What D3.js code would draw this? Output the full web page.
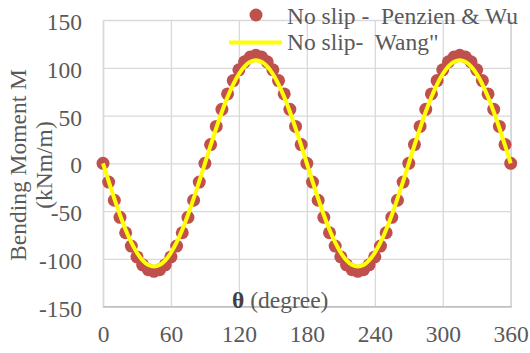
<!DOCTYPE html>
<html>
<head>
<meta charset="utf-8">
<script src="https://cdn.jsdelivr.net/npm/d3@7"></script>
<style>
  html, body { margin: 0; padding: 0; background: #fff; }
  svg { display: block; }
  svg text { font-family: 'Liberation Serif', 'Times New Roman', Times, 'DejaVu Serif', serif !important; fill: #595959; white-space: pre; }
</style>
</head>
<body>
<svg id="chart" width="530" height="353"></svg>
<script>
// ---- data ----
const theta = [0,5,10,15,20,25,30,35,40,45,50,55,60,65,70,75,80,85,90,95,100,105,110,115,120,125,130,135,140,145,150,155,160,165,170,175,180,185,190,195,200,205,210,215,220,225,230,235,240,245,250,255,260,265,270,275,280,285,290,295,300,305,310,315,320,325,330,335,340,345,350,355,360];
const penzienWu = [0,-19.6,-38.6,-56.5,-72.6,-86.6,-97.9,-106.2,-111.3,-113,-111.3,-106.2,-97.9,-86.6,-72.6,-56.5,-38.6,-19.6,
  0,19.6,38.6,56.5,72.6,86.6,97.9,106.2,111.3,113,111.3,106.2,97.9,86.6,72.6,56.5,38.6,19.6,
  0,-19.6,-38.6,-56.5,-72.6,-86.6,-97.9,-106.2,-111.3,-113,-111.3,-106.2,-97.9,-86.6,-72.6,-56.5,-38.6,-19.6,
  0,19.6,38.6,56.5,72.6,86.6,97.9,106.2,111.3,113,111.3,106.2,97.9,86.6,72.6,56.5,38.6,19.6,0];
const wang = [0,-18.8,-36.9,-54,-69.4,-82.7,-93.5,-101.5,-106.4,-108,-106.4,-101.5,-93.5,-82.7,-69.4,-54,-36.9,-18.8,
  0,18.8,36.9,54,69.4,82.7,93.5,101.5,106.4,108,106.4,101.5,93.5,82.7,69.4,54,36.9,18.8,
  0,-18.8,-36.9,-54,-69.4,-82.7,-93.5,-101.5,-106.4,-108,-106.4,-101.5,-93.5,-82.7,-69.4,-54,-36.9,-18.8,
  0,18.8,36.9,54,69.4,82.7,93.5,101.5,106.4,108,106.4,101.5,93.5,82.7,69.4,54,36.9,18.8,0];
const xTicks = [0,60,120,180,240,300,360];
const yTicks = [-150,-100,-50,0,50,100,150];
const seriesNames = ["No slip -  Penzien & Wu", "No slip-  Wang\""];
const yTitle = ["Bending Moment M", "(kNm/m)"];

const FONT = "'Liberation Serif', 'Times New Roman', Times, serif";
const FS = 23.5;

// ---- layout ----
const svg = d3.select("#chart");
const x = d3.scaleLinear().domain([0, 360]).range([103, 510.7]);
const y = d3.scaleLinear().domain([-150, 150]).range([306.7, 20]);

// gridlines
const gx = svg.append("g").attr("transform", `translate(0,${y(-150)})`)
  .call(d3.axisBottom(x).tickValues(xTicks).tickSize(-(y(-150) - y(150))).tickFormat(d => d));
gx.attr("font-family", FONT);
gx.select(".domain").attr("stroke", "#bfbfbf").attr("stroke-width", 1.3);
gx.selectAll(".tick line").attr("stroke", "#d9d9d9").attr("stroke-width", 1.3);
gx.selectAll(".tick text").attr("font-size", FS).attr("fill", "#595959")
  .attr("y", 342 - y(-150)).attr("dy", null);

const gy = svg.append("g").attr("transform", `translate(${x(0)},0)`)
  .call(d3.axisLeft(y).tickValues(yTicks).tickSize(-(x(360) - x(0))).tickFormat(d => d));
gy.attr("font-family", FONT);
gy.select(".domain").remove();
gy.selectAll(".tick line").attr("stroke", "#d9d9d9").attr("stroke-width", 1.3);
gy.selectAll(".tick text").attr("font-size", FS).attr("fill", "#595959")
  .attr("x", 82 - x(0)).attr("dy", 9.5);
svg.append("line").attr("x1", x(0)).attr("x2", x(360)).attr("y1", y(-150)).attr("y2", y(-150))
  .attr("stroke", "#bfbfbf").attr("stroke-width", 1.3);

// dots
svg.append("g").selectAll("circle").data(theta).join("circle")
  .attr("cx", (d) => x(d)).attr("cy", (d, i) => y(penzienWu[i])).attr("r", 6.5)
  .attr("fill", "#C0504D");

// line
const line = d3.line().x(d => x(d)).y((d, i) => y(wang[i])).curve(d3.curveCatmullRom);
svg.append("path").datum(theta).attr("d", line).attr("fill", "none")
  .attr("stroke", "#FFFF00").attr("stroke-width", 4);

// legend
svg.append("circle").attr("cx", 256).attr("cy", 15).attr("r", 6.5).attr("fill", "#C0504D");
svg.append("text").attr("font-family", FONT).attr("x", 287).attr("y", 23.5).attr("font-size", FS).text(seriesNames[0]);
svg.append("line").attr("x1", 229).attr("x2", 282).attr("y1", 42.5).attr("y2", 42.5)
  .attr("stroke", "#FFFF00").attr("stroke-width", 4);
svg.append("text").attr("font-family", FONT).attr("x", 287).attr("y", 50).attr("font-size", FS).text(seriesNames[1]);

// y title
const yt = svg.append("text").attr("font-family", FONT).attr("transform", "translate(0,165) rotate(-90)")
  .attr("text-anchor", "middle").attr("font-size", FS);
yt.append("tspan").attr("x", 0).attr("y", 26).text(yTitle[0]);
yt.append("tspan").attr("x", 0).attr("y", 52).text(yTitle[1]);

// x title
const xt = svg.append("text").attr("font-family", FONT).attr("x", 232).attr("y", 308).attr("font-size", FS);
xt.append("tspan").attr("font-weight", "bold").attr("fill", "#404040").text("θ");
xt.append("tspan").text(" (degree)");
</script>
</body>
</html>
